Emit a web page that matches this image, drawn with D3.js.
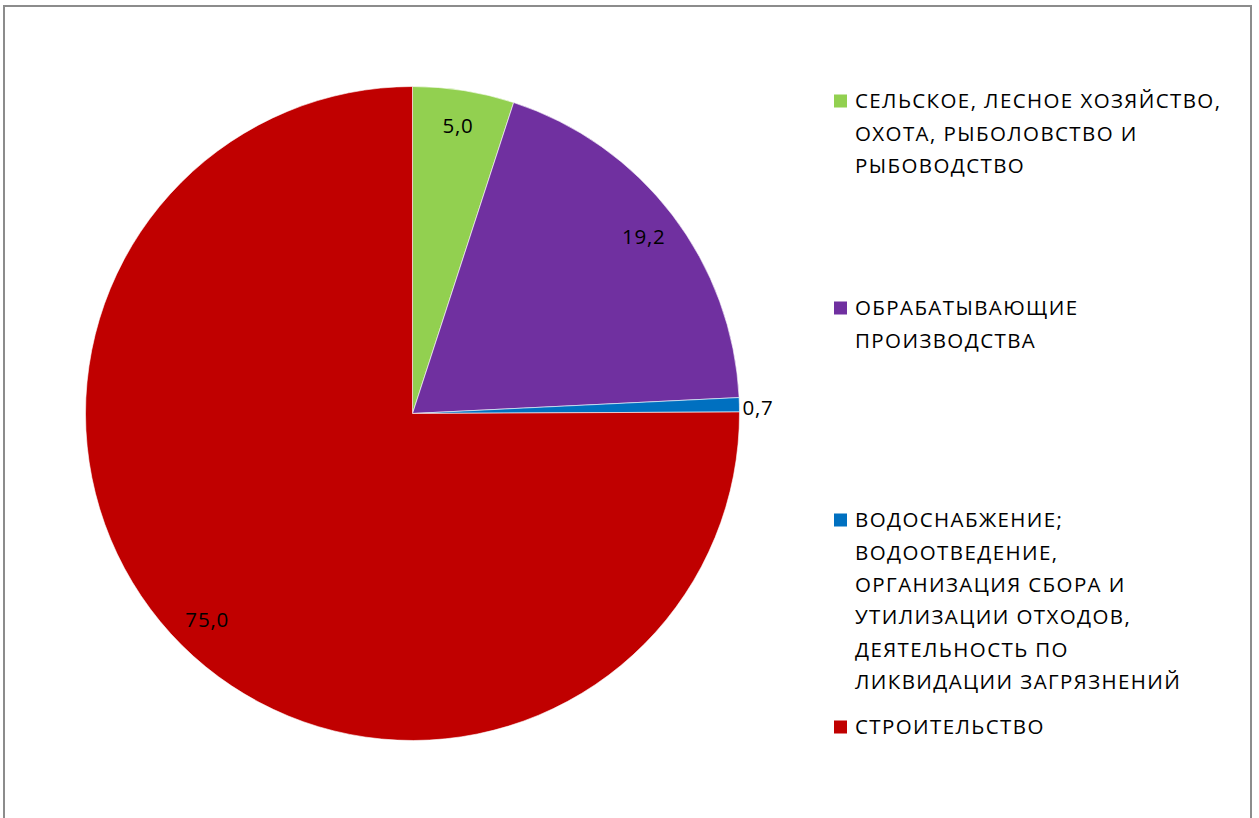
<!DOCTYPE html>
<html>
<head>
<meta charset="utf-8">
<script src="https://cdn.jsdelivr.net/npm/d3@7"></script>
<style>
  body { margin: 0; background: #fff; }
  svg { display: block; }
  text { font-family: "Open Sans", Lato, "Noto Sans", sans-serif; fill: #000; }
</style>
</head>
<body>
<div id="chart"></div>
<script>
var width = 1259,
    height = 818

// данные
var categories = [
  "СЕЛЬСКОЕ, ЛЕСНОЕ ХОЗЯЙСТВО, ОХОТА, РЫБОЛОВСТВО И РЫБОВОДСТВО",
  "ОБРАБАТЫВАЮЩИЕ ПРОИЗВОДСТВА",
  "ВОДОСНАБЖЕНИЕ; ВОДООТВЕДЕНИЕ, ОРГАНИЗАЦИЯ СБОРА И УТИЛИЗАЦИИ ОТХОДОВ, ДЕЯТЕЛЬНОСТЬ ПО ЛИКВИДАЦИИ ЗАГРЯЗНЕНИЙ",
  "СТРОИТЕЛЬСТВО"
]
var values = [5.0, 19.2, 0.7, 75.0]
var legendLines = [
  ["СЕЛЬСКОЕ, ЛЕСНОЕ ХОЗЯЙСТВО,", "ОХОТА, РЫБОЛОВСТВО И", "РЫБОВОДСТВО"],
  ["ОБРАБАТЫВАЮЩИЕ", "ПРОИЗВОДСТВА"],
  ["ВОДОСНАБЖЕНИЕ;", "ВОДООТВЕДЕНИЕ,", "ОРГАНИЗАЦИЯ СБОРА И", "УТИЛИЗАЦИИ ОТХОДОВ,", "ДЕЯТЕЛЬНОСТЬ ПО", "ЛИКВИДАЦИИ ЗАГРЯЗНЕНИЙ"],
  ["СТРОИТЕЛЬСТВО"]
]
var colors = ["#92D050", "#7030A0", "#0070C0", "#C00000"]

var svg = d3.select("#chart")
  .append("svg")
    .attr("width", width)
    .attr("height", height)

// рамка
svg.append("path")
  .attr("d", "M4,818 V6 H1251 V818")
  .attr("fill", "none")
  .attr("stroke", "#8c8c8c")
  .attr("stroke-width", 2)

var cx = 412.5, cy = 413.5, radius = 327

var color = d3.scaleOrdinal()
  .domain(categories)
  .range(colors)

var data = categories.map(function(c, i) { return {key: c, value: values[i], idx: i} })

var pie = d3.pie()
  .sort(null)
  .value(function(d) { return d.value })
var data_ready = pie(data)

var arcGenerator = d3.arc()
  .innerRadius(0)
  .outerRadius(radius)

var labelArc = d3.arc()
  .innerRadius(radius * 0.89)
  .outerRadius(radius * 0.89)

var g = svg.append("g")
  .attr("transform", "translate(" + cx + "," + cy + ")")

g.selectAll("path")
  .data(data_ready)
  .enter()
  .append("path")
    .attr("d", arcGenerator)
    .attr("fill", function(d) { return color(d.data.key) })
    .attr("stroke", "#fff")
    .attr("stroke-width", 0.6)

var fmt = function(v) { return d3.format(".1f")(v).replace(".", ",") }

g.selectAll("text.lbl")
  .data(data_ready)
  .enter()
  .append("text")
    .attr("class", "lbl")
    .text(function(d) { return fmt(d.data.value) })
    .attr("transform", function(d) {
      if (d.data.value < 2) {
        var a = (d.startAngle + d.endAngle) / 2
        return "translate(" + ((radius + 3) * Math.sin(a)) + "," + (-(radius + 3) * Math.cos(a) + 3) + ")"
      }
      return "translate(" + labelArc.centroid(d) + ")"
    })
    .attr("text-anchor", function(d) { return d.data.value < 2 ? "start" : "middle" })
    .attr("dy", "0.35em")
    .style("font-size", "20.5px")
    .style("letter-spacing", "0.8px")

// легенда
var legendY = [101, 308, 520, 727]
var lineH = 32.4

var leg = svg.selectAll("g.leg")
  .data(categories)
  .enter()
  .append("g")
    .attr("class", "leg")
    .attr("transform", function(d, i) { return "translate(834," + legendY[i] + ")" })

leg.append("rect")
  .attr("x", 0)
  .attr("y", -6.5)
  .attr("width", 13)
  .attr("height", 13)
  .attr("fill", function(d) { return color(d) })

leg.each(function(d, i) {
  var t = d3.select(this).append("text")
    .attr("x", 21)
    .style("font-size", "20.5px")
    .style("letter-spacing", "1.4px")
  t.selectAll("tspan")
    .data(legendLines[i])
    .enter()
    .append("tspan")
      .attr("x", 21)
      .attr("y", function(s, j) { return j * lineH })
      .attr("dy", "0.35em")
      .text(function(s) { return s })
})
</script>
</body>
</html>
